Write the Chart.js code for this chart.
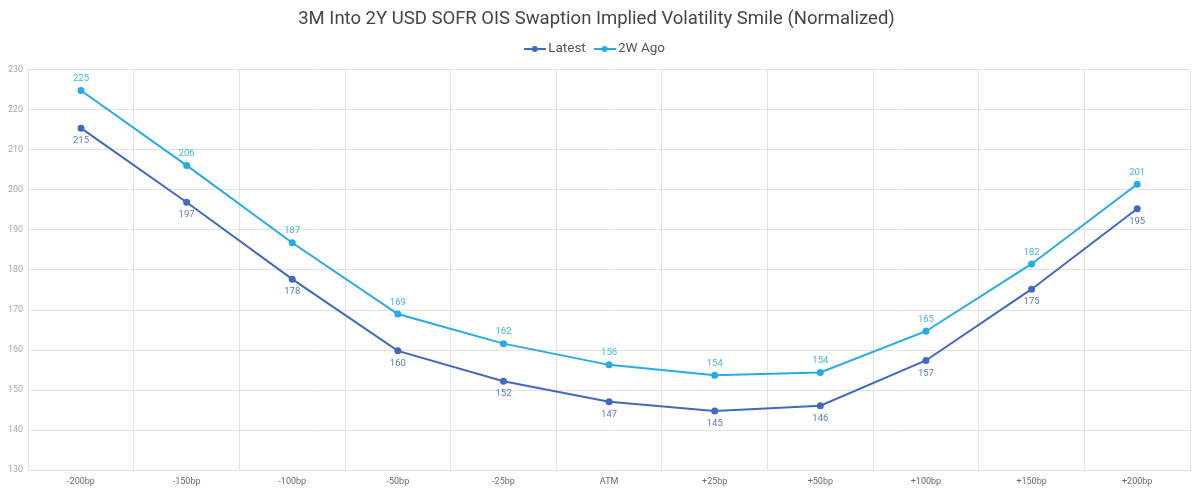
<!DOCTYPE html>
<html>
<head>
<meta charset="utf-8">
<script src="https://cdn.jsdelivr.net/npm/chart.js@4.4.1/dist/chart.umd.min.js"></script>
<style>
  html, body { margin: 0; padding: 0; background: #fff; }
  #wrap { width: 1200px; height: 493px; }
</style>
</head>
<body>
<div id="wrap"><canvas id="smile"></canvas></div>
<script>
// ── DATA ──
const strikes  = ['-200bp', '-150bp', '-100bp', '-50bp', '-25bp', 'ATM', '+25bp', '+50bp', '+100bp', '+150bp', '+200bp'];
const latest   = [215.4, 196.9, 177.7, 159.8, 152.2, 147.1, 144.8, 146.1, 157.4, 175.2, 195.3];
const twoWeeks = [224.8, 206.1, 186.8, 169.0, 161.6, 156.3, 153.7, 154.4, 164.7, 181.5, 201.4];

const COLORS = {
  latest: '#4169c0',
  latestLbl: '#5b7ac4',
  ago:    '#27aae6',
  agoLbl: '#45b1e8',
  grid:   '#e2e2e2',
  tick:   '#a8a8a8',
  xtick:  '#6a6a6a',
  title:  '#454545',
};

const FONT = "'Roboto', 'DejaVu Sans', sans-serif";

// legend marker: short line with a dot in the middle
function legendMarker(color) {
  const c = document.createElement('canvas');
  c.width = 22; c.height = 8;
  const g = c.getContext('2d');
  g.strokeStyle = color;
  g.lineWidth = 2;
  g.beginPath(); g.moveTo(0, 4); g.lineTo(22, 4); g.stroke();
  g.fillStyle = color;
  g.beginPath(); g.arc(11, 4, 3, 0, Math.PI * 2); g.fill();
  return c;
}

// extra room under the legend
const legendMargin = {
  id: 'legendMargin',
  beforeInit(chart) {
    const fit = chart.legend.fit;
    chart.legend.fit = function () {
      fit.bind(chart.legend)();
      this.height += 4;
    };
  }
};

// value labels: 2W Ago above, Latest below
const valueLabels = {
  id: 'valueLabels',
  afterDatasetsDraw(chart) {
    const ctx = chart.ctx;
    ctx.save();
    ctx.font = `9.5px ${FONT}`;
    ctx.textAlign = 'center';
    chart.data.datasets.forEach((ds, i) => {
      const meta = chart.getDatasetMeta(i);
      const above = i === 1;
      ctx.fillStyle = above ? COLORS.agoLbl : COLORS.latestLbl;
      ctx.textBaseline = above ? 'bottom' : 'top';
      meta.data.forEach((pt, j) => {
        const y = above ? pt.y - 7 : pt.y + 8;
        ctx.fillText(Math.round(ds.data[j]), pt.x, y);
      });
    });
    ctx.restore();
  }
};

new Chart(document.getElementById('smile'), {
  type: 'line',
  data: {
    labels: strikes,
    datasets: [
      {
        label: 'Latest',
        data: latest,
        borderColor: COLORS.latest,
        backgroundColor: COLORS.latest,
        borderWidth: 2,
        pointRadius: 2.5,
        pointBackgroundColor: COLORS.latest,
        tension: 0,
      },
      {
        label: '2W Ago',
        data: twoWeeks,
        borderColor: COLORS.ago,
        backgroundColor: COLORS.ago,
        borderWidth: 2,
        pointRadius: 2.5,
        pointBackgroundColor: COLORS.ago,
        tension: 0,
      },
    ],
  },
  options: {
    responsive: true,
    maintainAspectRatio: false,
    animation: false,
    layout: { padding: { left: 3, right: 10, top: 6, bottom: 0 } },
    plugins: {
      title: {
        display: true,
        text: '3M Into 2Y USD SOFR OIS Swaption Implied Volatility Smile (Normalized)',
        color: COLORS.title,
        font: { family: FONT, size: 18.5, weight: 'normal' },
        padding: { top: 2, bottom: 0 },
      },
      legend: {
        display: true,
        position: 'top',
        labels: {
          color: '#555',
          font: { family: FONT, size: 13.5 },
          usePointStyle: true,
          boxWidth: 22,
          padding: 12,
          generateLabels(chart) {
            const items = Chart.defaults.plugins.legend.labels.generateLabels(chart);
            items.forEach(it => {
              it.pointStyle = legendMarker(chart.data.datasets[it.datasetIndex].borderColor);
            });
            return items;
          },
        },
      },
      tooltip: { enabled: false },
    },
    scales: {
      x: {
        offset: true,
        grid: { color: COLORS.grid, offset: true, drawTicks: false },
        border: { color: COLORS.grid },
        ticks: { color: COLORS.xtick, font: { family: FONT, size: 9 }, padding: 6 },
      },
      y: {
        min: 130,
        max: 230,
        grid: { color: COLORS.grid, drawTicks: false },
        border: { color: COLORS.grid },
        ticks: { stepSize: 10, color: COLORS.tick, font: { family: FONT, size: 9 }, padding: 5 },
      },
    },
  },
  plugins: [legendMargin, valueLabels],
});
</script>
</body>
</html>
